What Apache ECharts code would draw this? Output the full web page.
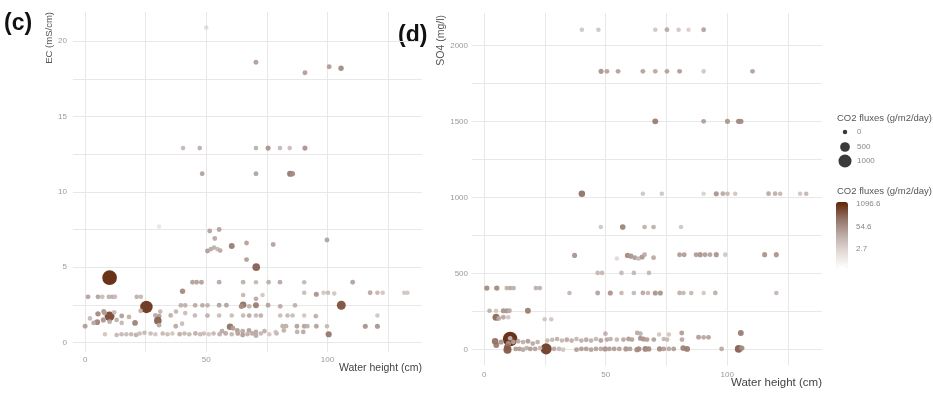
<!DOCTYPE html>
<html>
<head>
<meta charset="utf-8">
<script src="https://cdn.jsdelivr.net/npm/echarts@6/dist/echarts.min.js"></script>
<style>
  html, body { margin: 0; padding: 0; background: #fff; }
  #chart { width: 933px; height: 395px; }
</style>
</head>
<body>
<div id="chart"></div>
<script>
// Axis ticks and grid positions
const heightLabels = [0, 50, 100];
const heightGrid = [0, 25, 50, 75, 100, 125];
const ecLabels = [0, 5, 10, 15, 20];
const ecGrid = [0, 2.5, 5, 7.5, 10, 12.5, 15, 17.5, 20];
const so4Labels = [0, 500, 1000, 1500, 2000];
const so4Grid = [0, 250, 500, 750, 1000, 1250, 1500, 1750, 2000];

// Legend keys for CO2 flux (g/m2/day)
const sizeLegendValues = [0, 500, 1000];
const colorLegendValues = [1096.6, 54.6, 2.7];

// Samples: [water height (cm), EC (mS/cm), CO2 flux]
const ecSamples = [
  [50, 20.9, 2], [70.5, 18.6, 30], [90.7, 17.9, 30], [100.7, 18.3, 30], [105.6, 18.2, 60],
  [40.4, 12.9, 10], [47.3, 12.9, 15], [70.5, 12.9, 15], [75.5, 12.9, 40], [80.4, 12.9, 10],
  [84.4, 12.9, 8], [90.7, 12.9, 40],
  [48.3, 11.2, 25], [70.5, 11.2, 25], [84.6, 11.2, 120], [85.5, 11.2, 60],
  [30.5, 7.7, 1], [51.4, 7.4, 25], [55.3, 7.5, 25], [53.5, 6.9, 20],
  [50.5, 6.07, 30], [51.9, 6.2, 20], [53.2, 6.3, 15], [54.6, 6.2, 10], [55.7, 6.1, 20],
  [60.5, 6.4, 100], [66.6, 6.6, 25], [66.6, 5.5, 30], [77.6, 6.5, 25], [70.6, 5.0, 250],
  [99.8, 6.8, 25], [110.4, 4.0, 25],
  [10.1, 4.3, 1300],
  [1.2, 3.03, 25], [5.3, 3.03, 25], [7.1, 3.03, 8], [9.8, 3.03, 15], [11.2, 3.03, 15],
  [12.3, 3.03, 10], [21.3, 3.03, 15], [23.0, 3.03, 10],
  [44.3, 4.0, 25], [46.0, 4.0, 25], [48.0, 4.0, 25], [55.3, 4.0, 20], [65.2, 4.0, 15],
  [70.5, 4.0, 10], [75.7, 4.0, 15], [80.4, 4.0, 20], [90.4, 4.0, 10], [40.2, 3.4, 60],
  [90.4, 3.3, 8], [95.4, 3.2, 40], [98.4, 3.3, 5], [100.2, 3.3, 8], [102.8, 3.25, 5],
  [117.6, 3.3, 20], [120.6, 3.3, 10], [122.8, 3.3, 5], [131.7, 3.3, 5], [133, 3.3, 5],
  [65.2, 3.15, 10], [73.2, 3.15, 5], [70.5, 2.9, 20],
  [39.5, 2.47, 15], [41.3, 2.47, 15], [45.4, 2.47, 20], [48.4, 2.47, 20], [50.5, 2.47, 15],
  [55.3, 2.47, 25], [58.3, 2.47, 25], [65.2, 2.5, 150], [64.5, 2.4, 60], [67.7, 2.4, 15],
  [70.5, 2.47, 100], [75.5, 2.47, 25], [80.5, 2.4, 20], [86.6, 2.47, 15], [105.7, 2.47, 400],
  [25.3, 2.36, 900],
  [45.3, 1.79, 10], [50.5, 1.79, 15], [55.3, 1.79, 8], [60.5, 1.79, 8], [65.2, 1.79, 10],
  [67.7, 1.79, 20], [70.5, 1.79, 10], [72.5, 1.79, 15], [80.5, 1.79, 8], [83.5, 1.79, 10],
  [85.6, 1.79, 8], [90.4, 1.79, 5], [95.2, 1.75, 15], [120.6, 1.79, 5],
  [0, 1.08, 30], [2, 1.6, 10], [5, 1.35, 80], [5.3, 1.9, 60], [7.7, 2.05, 40],
  [10.1, 1.74, 500], [10.1, 1.38, 20], [15.1, 1.76, 30], [15.1, 1.3, 10], [18.1, 1.7, 15],
  [20.6, 1.3, 80], [22.9, 2.1, 15], [29, 1.8, 20], [30.5, 1.74, 30], [30, 1.45, 250],
  [30.5, 1.15, 20], [31, 2.05, 10], [35.3, 1.8, 15], [37.5, 2.05, 10], [37.4, 1.08, 20],
  [40, 1.25, 8], [41.3, 1.95, 8], [8, 1.95, 30], [12, 2.0, 10], [3.5, 1.3, 20],
  [7.5, 1.5, 40], [13, 1.5, 15],
  [59.8, 1.05, 150], [61, 0.95, 30], [81.5, 1.08, 15], [82.9, 1.08, 15], [87.4, 1.08, 25],
  [90.4, 1.08, 25], [91.7, 1.08, 15], [95.4, 1.08, 25], [99.8, 1.08, 10], [115.6, 1.08, 40],
  [120.6, 1.08, 40],
  [56.5, 0.75, 20], [62.8, 0.8, 30], [65, 0.75, 20], [67.6, 0.8, 25], [70.5, 0.7, 20],
  [74, 0.75, 15], [78.6, 0.7, 5], [82, 0.8, 15], [87.5, 0.7, 15], [90, 0.7, 20],
  [8.2, 0.55, 5], [13, 0.5, 10], [15, 0.55, 10], [17, 0.55, 8], [19, 0.55, 10],
  [21, 0.5, 15], [22.5, 0.6, 8], [24.5, 0.65, 10], [27, 0.6, 8], [29, 0.55, 5],
  [32, 0.6, 10], [34, 0.55, 8], [36, 0.6, 5], [39, 0.55, 15], [41, 0.6, 10],
  [43, 0.55, 10], [45.5, 0.6, 15], [47.5, 0.55, 10], [49, 0.6, 8], [51, 0.55, 5],
  [53, 0.6, 10], [55.5, 0.55, 15], [58, 0.6, 20], [60.5, 0.55, 10], [63, 0.6, 25],
  [65, 0.5, 30], [67, 0.55, 15], [69, 0.6, 20], [70.5, 0.45, 20], [72.5, 0.6, 10],
  [76, 0.55, 5], [79, 0.6, 10], [100.5, 0.55, 120]
];

// Samples: [water height (cm), SO4 (mg/l), CO2 flux]
const so4Samples = [
  [40.2, 2105, 5], [47.0, 2105, 5], [70.4, 2105, 5], [75.2, 2105, 20], [80, 2105, 5],
  [84.1, 2105, 3], [90.3, 2105, 25],
  [48.1, 1831, 40], [50.5, 1831, 25], [55.1, 1831, 25], [65.3, 1831, 25], [70.4, 1831, 20],
  [75.2, 1831, 25], [80.4, 1831, 30], [90.3, 1831, 5], [110.4, 1831, 25],
  [70.4, 1502, 100], [90.3, 1502, 30], [100.1, 1502, 40], [104.7, 1502, 60], [105.6, 1502, 60],
  [40.2, 1026, 150], [65.3, 1026, 5], [73.1, 1026, 5], [90.3, 1026, 3], [95.5, 1026, 40],
  [98.2, 1026, 20], [100.1, 1026, 10], [103.3, 1026, 5], [117, 1026, 20], [119.7, 1026, 15],
  [121.8, 1026, 10], [130, 1026, 5], [132.5, 1026, 10],
  [48, 807, 5], [57, 807, 80], [66, 807, 15], [69.7, 807, 15], [81, 807, 5],
  [37.2, 620, 40], [54.6, 600, 2], [59, 620, 60], [60.4, 615, 40], [62, 605, 30],
  [63.5, 600, 10], [65, 610, 40], [66, 625, 20], [69.7, 605, 20], [80.4, 625, 30],
  [82.3, 625, 30], [87.2, 625, 30], [88.9, 625, 40], [90.9, 625, 30], [92.9, 625, 25],
  [95.5, 625, 40], [99.2, 625, 5], [115.4, 625, 40], [120.2, 625, 40],
  [46.7, 505, 10], [48.5, 505, 10], [56.5, 505, 10], [61.6, 505, 10], [67.8, 505, 10],
  [35.1, 373, 10], [46.7, 373, 25], [51.9, 373, 40], [56.5, 373, 10], [61.6, 373, 10],
  [65.3, 373, 20], [67.4, 373, 10], [70.4, 373, 40], [72.5, 373, 40], [80.4, 373, 15],
  [82, 373, 10], [85.2, 373, 10], [90.3, 373, 5], [95.1, 373, 15], [120.2, 373, 10],
  [1.1, 405, 60], [5.2, 405, 60], [9.3, 405, 15], [10.7, 405, 20], [12.1, 405, 15],
  [21.3, 405, 15], [22.9, 405, 15],
  [2.2, 256, 15], [4.9, 256, 5], [7.9, 256, 40], [9.3, 256, 40], [10.4, 256, 20], [18, 256, 100],
  [4.9, 213, 200], [6, 205, 20], [7.9, 213, 20], [9.9, 213, 5], [24.9, 200, 5], [27.6, 200, 5],
  [10.7, 70, 1300], [25.5, 5, 700], [10, 40, 60], [10.7, 75, 10], [9.5, 15, 150],
  [5, 30, 100], [9.6, 0, 300], [13, 5, 30], [14.5, 5, 30], [16, 0, 20], [17.5, 10, 15],
  [19, 5, 30], [21, 5, 25], [23, 10, 10], [28.8, 5, 20], [30.8, 5, 10], [32.5, 0, 5],
  [38, 0, 30], [40, 5, 30], [42, 5, 30], [44, 0, 25], [46, 5, 25], [48, 5, 20],
  [49.8, 5, 40], [51.5, 5, 30], [53.5, 5, 30], [55.6, 5, 25], [58.3, 5, 40], [60, 5, 30],
  [62.9, 0, 60], [63.6, 5, 60], [66.3, 5, 80], [67.7, 5, 60], [72.2, 5, 60], [73.9, 5, 30],
  [76, 5, 20], [78, 5, 30], [81.9, 10, 80], [83.5, 5, 100], [97.7, 5, 20], [104.7, 5, 250],
  [106, 10, 60],
  [4.5, 55, 150], [7, 50, 40], [12, 50, 30], [14, 55, 20], [16, 50, 15], [18, 55, 30],
  [20, 40, 20], [22, 50, 15], [26, 60, 10], [28, 65, 10], [30, 70, 15], [32, 60, 10],
  [34, 65, 20], [36, 60, 15], [38, 70, 10], [40, 60, 15], [42, 65, 20], [44, 60, 15],
  [46, 70, 10], [48, 60, 25], [50.5, 66, 20], [52, 70, 15], [54.6, 66, 10], [57.3, 66, 20],
  [59.4, 70, 30], [60.8, 66, 25], [64.3, 75, 40], [65.6, 70, 40], [67, 66, 30], [69.8, 66, 25],
  [73.9, 70, 10], [75.3, 66, 10], [81.4, 66, 20], [88.2, 81, 30], [90.3, 81, 20], [92.3, 81, 25],
  [49.9, 105, 15], [63, 110, 20], [64.3, 105, 15], [72, 100, 5], [76, 100, 5], [81.3, 110, 30],
  [105.6, 110, 100]
];

const FONT = '"Liberation Sans", Arial, sans-serif';
const fluxColors = ['#ffffff', '#e3d9d6', '#bcaca7', '#917063', '#602408'];
const logMin = -1.5, logMax = 7.27;
const barTop = 202, barHeight = 66;

// point diameter: area grows linearly with flux
const dot = f => Math.sqrt(20 + 0.15 * f);
const toData = rows => rows.map(r => [r[0], r[1], r[2], Math.log(Math.max(r[2], 0.3))]);

function xAxisFor(gridIndex, labelMargin) {
  return {
    gridIndex, type: 'value', min: -5, max: 139,
    axisLine: { show: false },
    axisTick: { show: false, customValues: heightGrid },
    axisLabel: { customValues: heightLabels, color: '#9a9a9a', fontSize: 8, fontFamily: FONT, margin: labelMargin },
    splitLine: { show: true, lineStyle: { color: '#e8e8e8', width: 1 } }
  };
}
function yAxisFor(gridIndex, min, max, grid, labels, margin) {
  return {
    gridIndex, type: 'value', min, max,
    axisLine: { show: false },
    axisTick: { show: false, customValues: grid },
    axisLabel: { customValues: labels, color: '#9a9a9a', fontSize: 8, fontFamily: FONT, margin,
      formatter: v => String(v) },
    splitLine: { show: true, lineStyle: { color: '#e8e8e8', width: 1 } }
  };
}

const graphics = [
  { type: 'text', left: 4, top: 12, style: { text: '(c)', font: 'bold 23px ' + FONT, fill: '#111' } },
  { type: 'text', left: 398, top: 24, style: { text: '(d)', font: 'bold 23px ' + FONT, fill: '#111' } },
  { type: 'text', x: 49, y: 12, rotation: Math.PI / 2,
    style: { text: 'EC (mS/cm)', font: '9.5px ' + FONT, fill: '#555', align: 'right', verticalAlign: 'middle' } },
  { type: 'text', x: 441, y: 15, rotation: Math.PI / 2,
    style: { text: 'SO4 (mg/l)', font: '10.5px ' + FONT, fill: '#555', align: 'right', verticalAlign: 'middle' } },
  { type: 'text', x: 422, y: 368,
    style: { text: 'Water height (cm)', font: '10.5px ' + FONT, fill: '#444', align: 'right', verticalAlign: 'middle' } },
  { type: 'text', x: 822, y: 383,
    style: { text: 'Water height (cm)', font: '11.5px ' + FONT, fill: '#444', align: 'right', verticalAlign: 'middle' } },
  { type: 'text', x: 837, y: 118,
    style: { text: 'CO2 fluxes (g/m2/day)', font: '9.5px ' + FONT, fill: '#555', verticalAlign: 'middle' } },
  { type: 'text', x: 837, y: 191,
    style: { text: 'CO2 fluxes (g/m2/day)', font: '9.5px ' + FONT, fill: '#555', verticalAlign: 'middle' } }
];

const sizeRows = [132, 147, 161];
sizeLegendValues.forEach((v, i) => {
  graphics.push({ type: 'circle', shape: { cx: 845, cy: sizeRows[i], r: dot(v) / 2 }, style: { fill: '#3a3a3a' } });
  graphics.push({ type: 'text', x: 857, y: sizeRows[i],
    style: { text: String(v), font: '8px ' + FONT, fill: '#888', verticalAlign: 'middle' } });
});
colorLegendValues.forEach(v => {
  const y = barTop + (logMax - Math.log(v)) / (logMax - logMin) * barHeight;
  graphics.push({ type: 'text', x: 856, y,
    style: { text: String(v), font: '8px ' + FONT, fill: '#888', verticalAlign: 'middle' } });
});

const option = {
  backgroundColor: '#fff',
  animation: false,
  grid: [
    { left: 73, top: 12, width: 349, height: 340 },
    { left: 472, top: 13, width: 350, height: 352.6 }
  ],
  xAxis: [xAxisFor(0, 4), xAxisFor(1, 5)],
  yAxis: [
    yAxisFor(0, -0.63, 21.93, ecGrid, ecLabels, 6),
    yAxisFor(1, -105, 2215, so4Grid, so4Labels, 4)
  ],
  visualMap: [{
    type: 'continuous', seriesIndex: [0, 1], dimension: 3,
    min: logMin, max: logMax, calculable: false, hoverLink: false,
    left: 836, top: barTop, itemWidth: 12, itemHeight: barHeight, padding: 0,
    inRange: { color: fluxColors }
  }],
  series: [
    { type: 'scatter', xAxisIndex: 0, yAxisIndex: 0, data: toData(ecSamples),
      symbolSize: v => dot(v[2]), itemStyle: { opacity: 0.95 } },
    { type: 'scatter', xAxisIndex: 1, yAxisIndex: 1, data: toData(so4Samples),
      symbolSize: v => dot(v[2]), itemStyle: { opacity: 0.95 } }
  ],
  graphic: graphics
};

const chart = echarts.init(document.getElementById('chart'), null, { renderer: 'canvas' });
chart.setOption(option);
</script>
</body>
</html>
